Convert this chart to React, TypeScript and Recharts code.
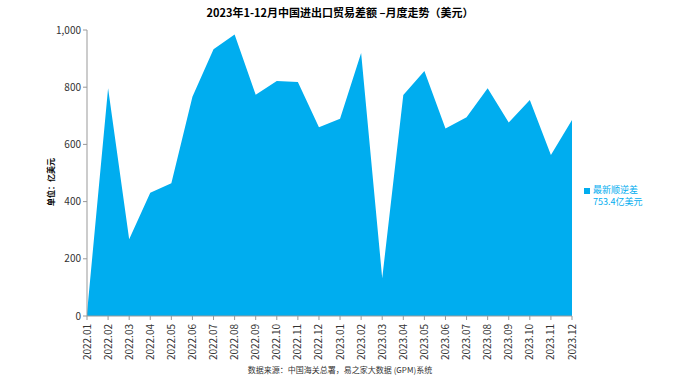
import React from 'react';
import { AreaChart, Area, XAxis, YAxis } from 'recharts';

const months = [
  '2022.01', '2022.02', '2022.03', '2022.04', '2022.05', '2022.06',
  '2022.07', '2022.08', '2022.09', '2022.10', '2022.11', '2022.12',
  '2023.01', '2023.02', '2023.03', '2023.04', '2023.05', '2023.06',
  '2023.07', '2023.08', '2023.09', '2023.10', '2023.11', '2023.12',
];

const balance = [
  10, 796, 268, 431, 464, 767, 933, 984, 774, 822, 818, 660,
  690, 920, 132, 773, 857, 656, 695, 796, 677, 755, 563, 685,
];

const yTicks = [0, 200, 400, 600, 800, 1000];

const data = months.map((m, i) => ({ month: m, value: balance[i] }));

const FONT = '"Noto Sans CJK SC", "Liberation Sans", sans-serif';
const BLUE = '#00adef';

function MonthTick(props: any) {
  const { x, y, payload } = props;
  return (
    <text
      x={0}
      y={0}
      transform={`translate(${x + 3.5},${y + 2}) rotate(-90)`}
      textAnchor="end"
      fontSize={10}
      fill="#333"
      fontFamily={FONT}
    >
      {payload.value}
    </text>
  );
}

export default function App() {
  return (
    <div style={{ position: 'absolute', left: 0, top: 0, width: 680, height: 381, background: '#fff', fontFamily: FONT }}>
      <div style={{ position: 'absolute', top: 4, left: 0, width: 680, textAlign: 'center', fontSize: 11, fontWeight: 'bold', color: '#000' }}>
        2023年1-12月中国进出口贸易差额 –月度走势（美元）
      </div>
      <div
        style={{
          position: 'absolute', left: 50, top: 182, fontSize: 8, fontWeight: 'bold', color: '#000',
          transform: 'translate(-50%, -50%) rotate(-90deg)', whiteSpace: 'nowrap',
        }}
      >
        单位：亿美元
      </div>
      <AreaChart width={680} height={381} data={data} margin={{ top: 30, right: 108, bottom: 0, left: 0 }}>
        <XAxis
          dataKey="month"
          interval={0}
          height={65}
          tick={<MonthTick />}
          stroke="#999"
          tickSize={4}
        />
        <YAxis
          domain={[0, 1000]}
          ticks={yTicks}
          width={87}
          stroke="#999"
          tickSize={4}
          tick={{ fontSize: 10, fill: '#333', fontFamily: FONT }}
          tickFormatter={(v: number) => v.toLocaleString('en-US')}
        />
        <Area
          type="linear"
          dataKey="value"
          stroke="none"
          fill={BLUE}
          fillOpacity={1}
          isAnimationActive={false}
        />
      </AreaChart>
      <div style={{ position: 'absolute', left: 584, top: 188, width: 6, height: 6, background: BLUE }} />
      <div style={{ position: 'absolute', left: 593, top: 184, fontSize: 9, lineHeight: '12px', color: BLUE }}>
        <div>最新顺逆差</div>
        <div>753.4亿美元</div>
      </div>
      <div style={{ position: 'absolute', top: 364, left: 0, width: 680, textAlign: 'center', fontSize: 8, color: '#333' }}>
        数据来源：中国海关总署，易之家大数据 (GPM)系统
      </div>
    </div>
  );
}
